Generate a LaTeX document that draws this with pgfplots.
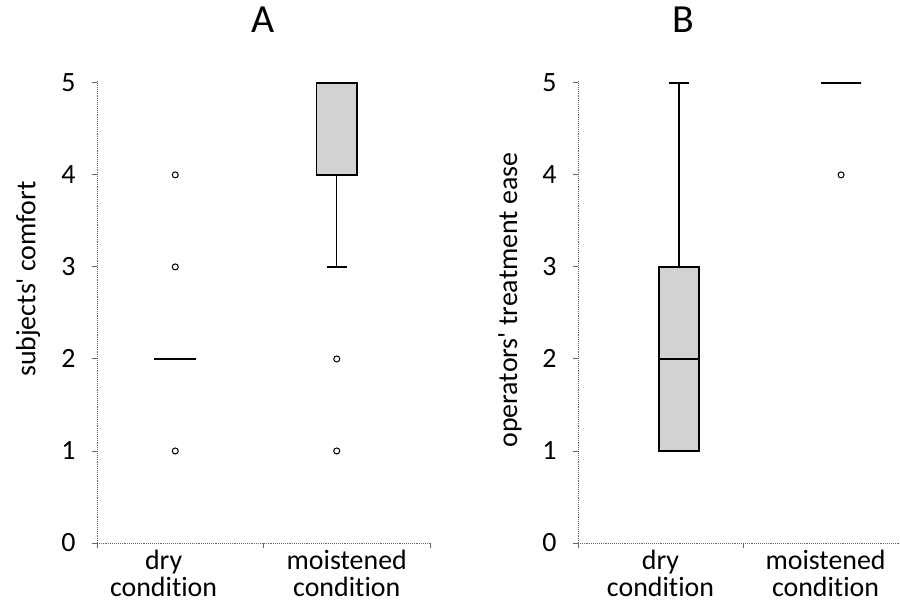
\documentclass[border=0pt]{standalone}
\usepackage{fontspec}
\setmainfont{Carlito}[Ligatures=NoCommon]
\usepackage{pgfplots}
\pgfplotsset{compat=1.18}
\usepgfplotslibrary{statistics}

\pgfplotsset{
  panel/.style={
    scale only axis, height=462bp, ymin=0, ymax=5.02, xmin=0,
    axis lines=left,
    axis line style={-, black!60, densely dotted, line width=0.9bp},
    ytick={0,1,2,3,4,5}, tick align=outside, major tick length=5bp,
    tick style={black!60, line width=0.9bp},
    xtick={0,1,2}, xticklabels={,,},
    extra x tick style={major tick length=0pt},
    tick label style={font=\fontsize{28}{27}\selectfont},
    xticklabel style={align=center, yshift=-6bp, inner sep=1bp},
    yticklabel style={xshift=-13bp},
    /pgf/number format/assume math mode=true,
    clip=false,
    boxplot/draw direction=y,
    boxplot/every box/.style={fill=gray!35, draw=black, line width=1.4bp},
    boxplot/every whisker/.style={draw=black, line width=1.4bp},
    boxplot/every median/.style={draw=black, line width=1.9bp},
    title style={font=\fontsize{40}{40}\selectfont, anchor=base},
    every axis y label/.style={rotate=90, anchor=center, font=\fontsize{28}{28}\selectfont},
  },
  outl/.style={black, mark=o, mark size=3bp, mark options={solid, line width=1bp}},
}

\begin{document}
\begin{tikzpicture}
\useasboundingbox (0,0) rectangle (900bp,608bp);

% panel A
\begin{axis}[panel, at={(97bp,65bp)}, anchor=south west, width=333bp, xmax=2,
  extra x ticks={0.4,1.5},
  extra x tick labels={{dry\\condition},{moistened\\condition}},
  title={A}, title style={at={(axis description cs:0.5,1.093)}},
  ylabel={subjects\textquotesingle\ comfort},
  ylabel style={at={(axis description cs:-0.207,0.571)}},
]
\addplot[outl, boxplot prepared={draw position=0.47, median=2,
  lower quartile=2, upper quartile=2, lower whisker=2, upper whisker=2,
  box extend=0.25, whisker extend=0.25}]
  coordinates {(0,1) (0,3) (0,4)};
\addplot[outl, boxplot prepared={draw position=1.44, median=5,
  lower quartile=4, upper quartile=5, lower whisker=3, upper whisker=5,
  box extend=0.245, whisker extend=0.12}]
  coordinates {(0,1) (0,2)};
\end{axis}

% panel B
\begin{axis}[panel, at={(578bp,65bp)}, anchor=south west, width=321bp, xmax=1.945,
  extra x ticks={0.5,1.5},
  extra x tick labels={{dry\\condition},{moistened\\condition}},
  title={B}, title style={at={(axis description cs:0.327,1.093)}},
  ylabel={operators\textquotesingle\ treatment ease},
  ylabel style={at={(axis description cs:-0.212,0.526)}},
]
\addplot[outl, boxplot prepared={draw position=0.612, median=2,
  lower quartile=1, upper quartile=3, lower whisker=1, upper whisker=5,
  box extend=0.242, whisker extend=0.127}]
  coordinates {};
\addplot[outl, boxplot prepared={draw position=1.594, median=5,
  lower quartile=5, upper quartile=5, lower whisker=5, upper whisker=5,
  box extend=0.242, whisker extend=0.242}]
  coordinates {(0,4)};
\end{axis}
\end{tikzpicture}
\end{document}
